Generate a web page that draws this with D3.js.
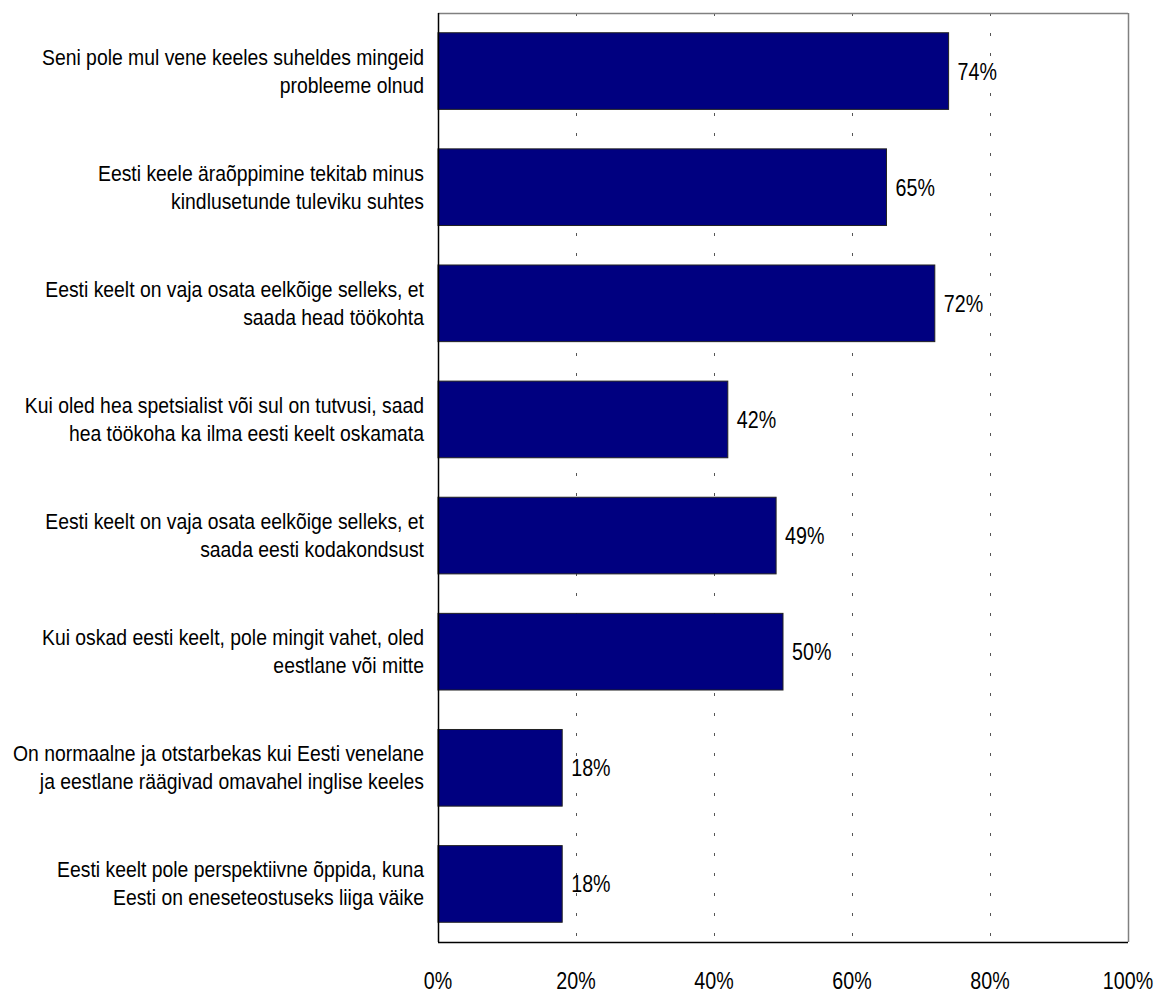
<!DOCTYPE html>
<html>
<head>
<meta charset="utf-8">
<script src="https://cdn.jsdelivr.net/npm/d3@7"></script>
<style>
  html, body { margin: 0; padding: 0; background: #fff; }
  svg { display: block; }
  text { font-family: "Liberation Sans", Arial, sans-serif; fill: #000; }
</style>
</head>
<body>
<script>
const categories = [
  ["Seni pole mul vene keeles suheldes mingeid", "probleeme olnud"],
  ["Eesti keele äraõppimine tekitab minus", "kindlusetunde tuleviku suhtes"],
  ["Eesti keelt on vaja osata eelkõige selleks, et", "saada head töökohta"],
  ["Kui oled hea spetsialist või sul on tutvusi, saad", "hea töökoha ka ilma eesti keelt oskamata"],
  ["Eesti keelt on vaja osata eelkõige selleks, et", "saada eesti kodakondsust"],
  ["Kui oskad eesti keelt, pole mingit vahet, oled", "eestlane või mitte"],
  ["On normaalne ja otstarbekas kui Eesti venelane", "ja eestlane räägivad omavahel inglise keeles"],
  ["Eesti keelt pole perspektiivne õppida, kuna", "Eesti on eneseteostuseks liiga väike"]
];
const values = [74, 65, 72, 42, 49, 50, 18, 18];
const tickValues = [0, 20, 40, 60, 80, 100];
const tickLabels = ["0%", "20%", "40%", "60%", "80%", "100%"];

const W = 1157, H = 994;
const pL = 438, pR = 1128, pT = 13, pB = 942;
const narrowNum = 0.82;
const narrowCat = 0.88;

const svg = d3.select("body").append("svg").attr("width", W).attr("height", H);

const x = d3.scaleLinear().domain([0, 100]).range([pL, pR]);
const y = d3.scaleBand().domain(d3.range(categories.length)).range([pT, pB]).paddingInner(0.34).paddingOuter(0.17);

// gridlines
svg.append("g").selectAll("line").data(tickValues.filter(d => d > 0)).join("line")
  .attr("x1", d => Math.round(x(d)) + 0.5).attr("x2", d => Math.round(x(d)) + 0.5)
  .attr("y1", pT).attr("y2", pB)
  .attr("stroke", d => d === 100 ? "#808080" : "#555")
  .attr("stroke-width", d => d === 100 ? 1.5 : 1)
  .attr("stroke-dasharray", d => d === 100 ? null : "3,17");

// top border
svg.append("line").attr("x1", pL).attr("x2", pR).attr("y1", pT + 0.5).attr("y2", pT + 0.5)
  .attr("stroke", "#808080").attr("stroke-width", 1.5);

// bars
svg.append("g").selectAll("rect").data(values).join("rect")
  .attr("x", x(0))
  .attr("y", (d, i) => y(i))
  .attr("width", d => x(d) - x(0))
  .attr("height", y.bandwidth())
  .attr("fill", "#000080")
  .attr("stroke", "#222")
  .attr("stroke-width", 1);

// value labels
svg.append("g").selectAll("g").data(values).join("g")
  .attr("transform", (d, i) => `translate(${x(d) + 9},${y(i) + y.bandwidth() / 2 + 8.5}) scale(${narrowNum},1)`)
  .append("text")
  .attr("font-size", 24)
  .text(d => d + "%");

// axes lines
svg.append("line").attr("x1", pL + 0.5).attr("x2", pL + 0.5).attr("y1", pT).attr("y2", pB)
  .attr("stroke", "#000").attr("stroke-width", 1.5);
svg.append("line").attr("x1", pL).attr("x2", pR).attr("y1", pB + 0.5).attr("y2", pB + 0.5)
  .attr("stroke", "#000").attr("stroke-width", 1.5);

// category labels
const cat = svg.append("g").selectAll("g").data(categories).join("g")
  .attr("transform", (d, i) => `translate(424,${y(i) + y.bandwidth() / 2}) scale(${narrowCat},1)`)
  .append("text")
  .attr("text-anchor", "end")
  .attr("font-size", 22);
cat.selectAll("tspan").data(d => d).join("tspan")
  .attr("x", 0)
  .attr("y", (d, j) => j === 0 ? -6.5 : 21.5)
  .text(d => d);

// tick labels
svg.append("g").selectAll("g").data(tickValues).join("g")
  .attr("transform", d => `translate(${x(d)},989) scale(${narrowNum},1)`)
  .append("text")
  .attr("text-anchor", "middle")
  .attr("font-size", 24)
  .text((d, i) => tickLabels[i]);
</script>
</body>
</html>
